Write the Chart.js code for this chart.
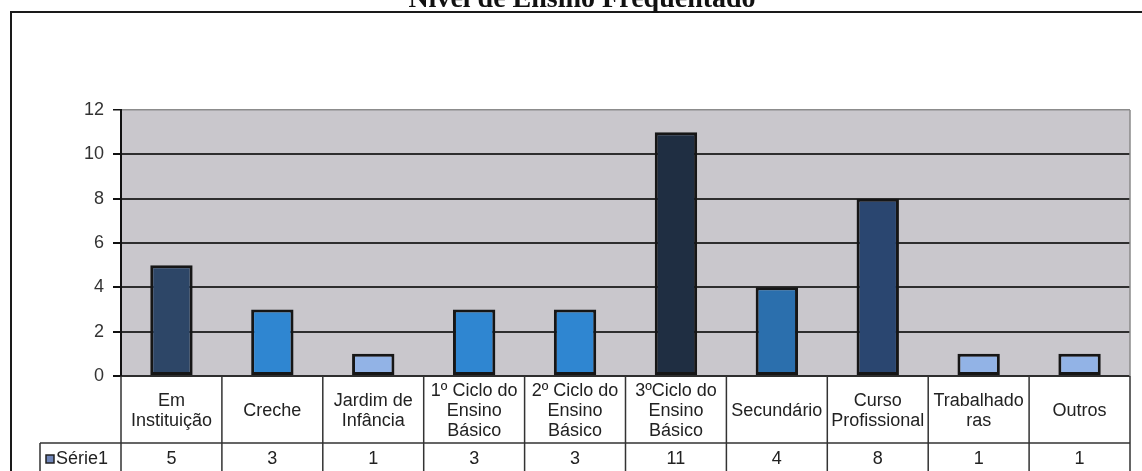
<!DOCTYPE html>
<html lang="pt">
<head>
<meta charset="utf-8">
<title>Nível de Ensino Frequentado</title>
<script src="https://cdn.jsdelivr.net/npm/chart.js@4/dist/chart.umd.min.js"></script>
<style>
  html, body { margin: 0; padding: 0; background: #ffffff; }
  #wrap { position: relative; width: 1142px; height: 471px; overflow: hidden; }
</style>
</head>
<body>
<div id="wrap"><canvas id="chart"></canvas></div>
<script>
// Chart data
const chartTitle = 'Nível de Ensino Frequentado';
const seriesName = 'Série1';
const categories = [
  ['Em', 'Instituição'],
  ['Creche'],
  ['Jardim de', 'Infância'],
  ['1º Ciclo do', 'Ensino', 'Básico'],
  ['2º Ciclo do', 'Ensino', 'Básico'],
  ['3ºCiclo do', 'Ensino', 'Básico'],
  ['Secundário'],
  ['Curso', 'Profissional'],
  ['Trabalhado', 'ras'],
  ['Outros']
];
const values = [5, 3, 1, 3, 3, 11, 4, 8, 1, 1];
const barColors = ['#2d4667', '#2f86d1', '#92b3e6', '#2f86d1', '#2f86d1', '#1f2e42', '#2b6fad', '#2a4670', '#92b3e6', '#92b3e6'];
const yMin = 0, yMax = 12, yStep = 2;

const TEXT_FONT = '"Liberation Sans", Arial, sans-serif';

// Grey plot background and page frame with title
const backdrop = {
  id: 'backdrop',
  beforeDraw(chart) {
    const { ctx, chartArea: a } = chart;
    ctx.save();
    ctx.fillStyle = '#ffffff';
    ctx.fillRect(0, 0, chart.width, chart.height);
    ctx.fillStyle = '#c9c7cc';
    ctx.fillRect(a.left, a.top, a.right - a.left, a.bottom - a.top);

    // outer frame (top and left edges)
    ctx.strokeStyle = '#1a1a1a';
    ctx.lineWidth = 2;
    ctx.beginPath();
    ctx.moveTo(chart.width, 12);
    ctx.lineTo(11, 12);
    ctx.lineTo(11, chart.height);
    ctx.stroke();

    // title, partly above the frame
    ctx.fillStyle = '#111111';
    ctx.font = 'bold 28px "Liberation Serif", "Times New Roman", serif';
    ctx.textAlign = 'center';
    ctx.textBaseline = 'alphabetic';
    ctx.fillText(chartTitle, 582, 7);
    ctx.restore();
  }
};

// Data table under the plot: category labels and the series row
const dataTable = {
  id: 'dataTable',
  afterDraw(chart) {
    const { ctx, chartArea: a } = chart;
    const n = categories.length;
    const w = (a.right - a.left) / n;
    const top = a.bottom;
    const mid = 443;
    const bottom = chart.height + 4;
    const keyLeft = 40;

    ctx.save();
    // right border of the plot area
    ctx.strokeStyle = '#8a8a8a';
    ctx.lineWidth = 1.5;
    ctx.beginPath();
    ctx.moveTo(a.right, a.top);
    ctx.lineTo(a.right, a.bottom);
    ctx.stroke();

    ctx.strokeStyle = '#333333';
    ctx.lineWidth = 1.5;
    ctx.beginPath();
    for (let i = 0; i <= n; i++) {
      const x = a.left + i * w;
      ctx.moveTo(x, top);
      ctx.lineTo(x, bottom);
    }
    ctx.moveTo(keyLeft, mid);
    ctx.lineTo(a.right, mid);
    ctx.moveTo(keyLeft, mid);
    ctx.lineTo(keyLeft, bottom);
    ctx.stroke();

    ctx.fillStyle = '#222222';
    ctx.font = '18px ' + TEXT_FONT;
    ctx.textAlign = 'center';
    ctx.textBaseline = 'middle';
    const lineH = 20;
    const labelCenter = 411;
    categories.forEach((lines, i) => {
      const cx = chart.scales.x.getPixelForValue(i);
      const y0 = labelCenter - (lines.length - 1) * lineH / 2;
      lines.forEach((t, k) => ctx.fillText(t, cx, y0 + k * lineH));
      ctx.fillText(String(values[i]), cx, 459);
    });

    // legend key and series name
    ctx.fillStyle = '#6f85b8';
    ctx.fillRect(46, 455, 8, 8);
    ctx.strokeStyle = '#222222';
    ctx.lineWidth = 1.5;
    ctx.strokeRect(46, 455, 8, 8);
    ctx.fillStyle = '#222222';
    ctx.textAlign = 'left';
    ctx.fillText(seriesName, 56, 459);
    ctx.restore();
  }
};

new Chart(document.getElementById('chart'), {
  type: 'bar',
  data: {
    labels: categories.map(c => c.join(' ')),
    datasets: [{
      label: seriesName,
      data: values,
      backgroundColor: barColors,
      borderColor: '#161616',
      borderWidth: 3,
      borderSkipped: false,
      categoryPercentage: 1,
      barPercentage: 0.42
    }]
  },
  options: {
    responsive: true,
    maintainAspectRatio: false,
    animation: false,
    layout: { padding: { top: 110, bottom: 95, left: 0, right: 12 } },
    plugins: {
      legend: { display: false },
      title: { display: false },
      tooltip: { enabled: false }
    },
    scales: {
      x: { display: false },
      y: {
        min: yMin,
        max: yMax,
        ticks: {
          stepSize: yStep,
          padding: 9,
          color: '#333333',
          font: { family: TEXT_FONT, size: 18 }
        },
        grid: {
          color: c => (c.tick && c.tick.value === yMax) ? '#8c8c8c' : '#2e2e2e',
          lineWidth: c => (c.tick && c.tick.value === yMax) ? 1.5 : 2,
          tickColor: '#111111',
          tickLength: 8
        },
        border: { display: true, color: '#111111', width: 2 },
        afterFit(scale) { scale.width = 121; }
      }
    }
  },
  plugins: [backdrop, dataTable]
});
</script>
</body>
</html>
